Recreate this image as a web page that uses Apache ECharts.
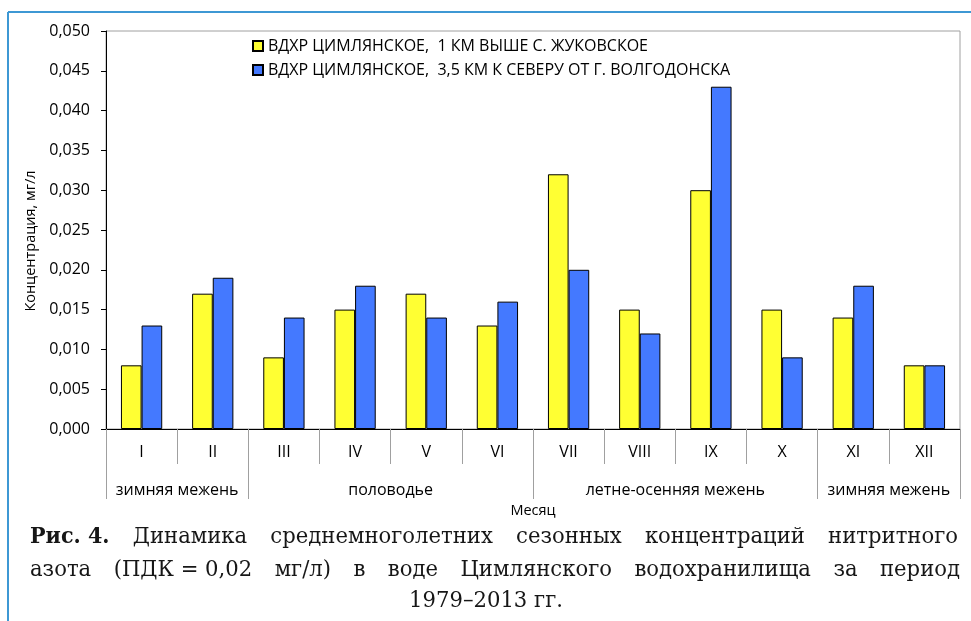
<!DOCTYPE html>
<html>
<head>
<meta charset="utf-8">
<script src="https://cdn.jsdelivr.net/npm/echarts@6/dist/echarts.min.js"></script>
<style>
  html, body { margin: 0; padding: 0; background: #fff; }
  #chart { width: 971px; height: 621px; }
</style>
</head>
<body>
<div id="chart"></div>
<script>
// Months (Roman numerals) and hydrological seasons
const months = ['I', 'II', 'III', 'IV', 'V', 'VI', 'VII', 'VIII', 'IX', 'X', 'XI', 'XII'];
const seasonNames = ['зимняя межень', 'половодье', 'летне-осенняя межень', 'зимняя межень'];
const seasonCenters = [1, 4, 8, 11];
const seasonBounds = [0, 2, 6, 10, 12];

// Series: mean nitrite nitrogen concentration, mg/l
const seriesNames = [
  'ВДХР ЦИМЛЯНСКОЕ,  1 КМ ВЫШЕ С. ЖУКОВСКОЕ',
  'ВДХР ЦИМЛЯНСКОЕ,  3,5 КМ К СЕВЕРУ ОТ Г. ВОЛГОДОНСКА'
];
const zhukovskoe = [0.008, 0.017, 0.009, 0.015, 0.017, 0.013, 0.032, 0.015, 0.030, 0.015, 0.014, 0.008];
const volgodonsk = [0.013, 0.019, 0.014, 0.018, 0.014, 0.016, 0.020, 0.012, 0.043, 0.009, 0.018, 0.008];

const yTitle = 'Концентрация, мг/л';
const xTitle = 'Месяц';

// Caption lines
const captionLabel = 'Рис. 4.';
const captionLine1 = ['Динамика', 'среднемноголетних', 'сезонных', 'концентраций', 'нитритного'];
const captionLine2 = ['азота', '(ПДК = 0,02', 'мг/л)', 'в', 'воде', 'Цимлянского', 'водохранилища', 'за', 'период'];
const captionLine3 = '1979–2013 гг.';

const sans = '"Open Sans", "Liberation Sans", sans-serif';
const serif = '"DejaVu Serif", "Liberation Serif", serif';
const capSize = 23;
const capScale = 0.92;
const capScaleBold = 0.9;

const measureCtx = document.createElement('canvas').getContext('2d');
function textWidth(str, font) {
  measureCtx.font = font;
  return measureCtx.measureText(str).width;
}

// Lay out a justified line of words between x0 and x1
function justify(words, fonts, scales, x0, x1, y) {
  const widths = words.map((w, i) => textWidth(w, fonts[i]) * scales[i]);
  const total = widths.reduce((a, b) => a + b, 0);
  const gap = (x1 - x0 - total) / (words.length - 1);
  const out = [];
  let x = x0;
  words.forEach((w, i) => {
    out.push({
      type: 'text', x: x, y: y, scaleX: scales[i],
      style: { text: w, font: fonts[i], fill: '#161616', textVerticalAlign: 'middle' }
    });
    x += widths[i] + gap;
  });
  return out;
}

const normalFont = capSize + 'px ' + serif;
const boldFont = 'bold ' + capSize + 'px ' + serif;

const line1Words = [captionLabel].concat(captionLine1);
const line1Fonts = [boldFont].concat(captionLine1.map(() => normalFont));
const line1Scales = [capScaleBold].concat(captionLine1.map(() => capScale));
const line2Fonts = captionLine2.map(() => normalFont);
const line2Scales = captionLine2.map(() => capScale);

const graphics = [
  { type: 'line', shape: { x1: 8, y1: 12, x2: 971, y2: 12 }, style: { stroke: '#3d98d4', lineWidth: 2 } },
  { type: 'line', shape: { x1: 8, y1: 12, x2: 8, y2: 621 }, style: { stroke: '#3d98d4', lineWidth: 2 } },
  {
    type: 'text', x: 31, y: 241, rotation: Math.PI / 2,
    style: { text: yTitle, font: '14.5px ' + sans, fill: '#000', textAlign: 'center', textVerticalAlign: 'middle' }
  }
]
  .concat(justify(line1Words, line1Fonts, line1Scales, 30, 958, 537))
  .concat(justify(captionLine2, line2Fonts, line2Scales, 30, 960, 570))
  .concat([{
    type: 'text', x: 486, y: 601, scaleX: capScale,
    style: { text: captionLine3, font: normalFont, fill: '#161616', textAlign: 'center', textVerticalAlign: 'middle' }
  }]);

const chart = echarts.init(document.getElementById('chart'), null, { renderer: 'canvas' });

chart.setOption({
  animation: false,
  backgroundColor: '#fff',
  textStyle: { fontFamily: sans },
  grid: {
    left: 106, top: 31, right: 11, bottom: 192,
    show: true, borderColor: '#a0a0a0', borderWidth: 1, backgroundColor: 'transparent'
  },
  legend: {
    orient: 'vertical',
    left: 247, top: 33,
    itemWidth: 10, itemHeight: 10, itemGap: 8,
    icon: 'rect',
    textStyle: { fontFamily: sans, fontSize: 16, color: '#000' },
    data: seriesNames
  },
  xAxis: [
    {
      type: 'category',
      data: months,
      position: 'bottom',
      axisLine: { lineStyle: { color: '#000', width: 1 } },
      axisTick: { show: true, interval: 0, length: 35, lineStyle: { color: '#a0a0a0' } },
      axisLabel: { interval: 0, margin: 15, fontSize: 16, color: '#000', fontFamily: sans }
    },
    {
      type: 'value',
      min: 0, max: 12,
      position: 'bottom',
      axisLine: { show: false },
      splitLine: { show: false },
      axisTick: { show: true, customValues: seasonBounds, length: 70, lineStyle: { color: '#a0a0a0' } },
      axisLabel: {
        customValues: seasonCenters,
        margin: 53, fontSize: 16, color: '#000', fontFamily: sans,
        formatter: function (v) {
          const i = seasonCenters.indexOf(Math.round(v));
          return i >= 0 ? seasonNames[i] : '';
        }
      },
      name: xTitle,
      nameLocation: 'middle',
      nameGap: 73,
      nameTextStyle: { fontSize: 14.5, color: '#000', fontFamily: sans }
    }
  ],
  yAxis: {
    type: 'value',
    min: 0, max: 0.05, interval: 0.005,
    axisLine: { show: true, lineStyle: { color: '#000', width: 1 } },
    axisTick: { show: true, length: 5, lineStyle: { color: '#000' } },
    splitLine: { show: false },
    axisLabel: {
      margin: 16, fontSize: 16, color: '#000', fontFamily: sans,
      formatter: v => v.toFixed(3).replace('.', ',')
    }
  },
  series: [
    {
      name: seriesNames[0], type: 'bar', data: zhukovskoe,
      barGap: '0%', barCategoryGap: '42%',
      itemStyle: { color: '#ffff33', borderColor: '#000', borderWidth: 1 }
    },
    {
      name: seriesNames[1], type: 'bar', data: volgodonsk,
      barGap: '0%', barCategoryGap: '42%',
      itemStyle: { color: '#4479ff', borderColor: '#000', borderWidth: 1 }
    }
  ],
  graphic: graphics
});
</script>
</body>
</html>
